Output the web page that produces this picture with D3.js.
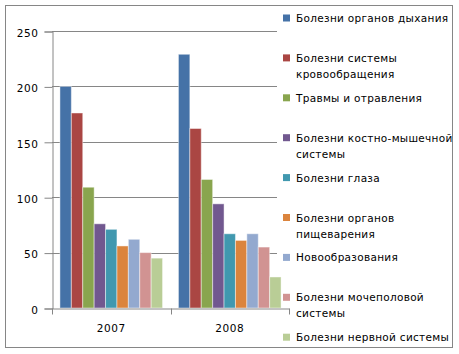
<!DOCTYPE html>
<html>
<head>
<meta charset="utf-8">
<script src="https://cdn.jsdelivr.net/npm/d3@7"></script>
<style>
  body { margin: 0; background: #fff; }
  text { font-family: "DejaVu Sans", sans-serif; fill: #000; }
</style>
</head>
<body>
<div class="container"></div>
<script>
/* Data */
const years = ['2007', '2008'];
const series = [
    'Болезни органов дыхания',
    'Болезни системы кровообращения',
    'Травмы и отравления',
    'Болезни костно-мышечной системы',
    'Болезни глаза',
    'Болезни органов пищеварения',
    'Новообразования',
    'Болезни мочеполовой системы',
    'Болезни нервной системы'
];
// legend lines (how the labels wrap)
const legendLines = [
    ['Болезни органов дыхания'],
    ['Болезни системы', 'кровообращения'],
    ['Травмы и отравления'],
    ['Болезни костно-мышечной', 'системы'],
    ['Болезни глаза'],
    ['Болезни органов', 'пищеварения'],
    ['Новообразования'],
    ['Болезни мочеполовой', 'системы'],
    ['Болезни нервной системы']
];
const values2007 = [200, 176, 109, 76, 71, 56, 62, 50, 45];
const values2008 = [229, 162, 116, 94, 67, 61, 67, 55, 28];
const yTicks = [0, 50, 100, 150, 200, 250];

/* Colors */
const colors = ['#4572A7', '#AA4643', '#89A54E', '#71588F', '#4198AF', '#DB843D', '#93A9CF', '#D19392', '#B9CD96'];
const grey = '#868686';

const width = 459;
const height = 354;

const data = years.map((y, i) => ({
    year: y,
    values: (i === 0 ? values2007 : values2008).map((v, j) => ({ name: series[j], value: v, idx: j }))
}));

const svg = d3.select('.container')
    .append('svg')
    .attr('width', width)
    .attr('height', height);

// outer frame
svg.append('rect')
    .attr('x', 5.5).attr('y', 5.5)
    .attr('width', 447).attr('height', 342)
    .attr('fill', '#fff')
    .attr('stroke', grey);

const plot = { left: 52, right: 289, top: 31, bottom: 308 };

const y = d3.scaleLinear().domain([0, 250]).range([plot.bottom, plot.top]);
const x0 = d3.scaleBand().domain(years).range([plot.left, plot.right]).padding(0);
const gap = x0.bandwidth() * 0.067;
const x1 = d3.scaleBand().domain(d3.range(series.length)).range([gap, x0.bandwidth() - gap]).padding(0);

// gridlines
svg.append('g')
    .selectAll('line')
    .data(yTicks.filter(t => t > 0))
    .enter()
    .append('line')
    .attr('x1', plot.left).attr('x2', 277)
    .attr('y1', d => Math.round(y(d)) + 0.5)
    .attr('y2', d => Math.round(y(d)) + 0.5)
    .attr('stroke', grey);

// bars
const groups = svg.selectAll('.year')
    .data(data)
    .enter()
    .append('g')
    .attr('class', 'year')
    .attr('transform', d => `translate(${x0(d.year)},0)`);

groups.selectAll('rect')
    .data(d => d.values)
    .enter()
    .append('rect')
    .attr('x', d => x1(d.idx))
    .attr('y', d => y(d.value))
    .attr('width', x1.bandwidth())
    .attr('height', d => plot.bottom - y(d.value))
    .attr('fill', d => colors[d.idx])
    .attr('stroke', '#fff')
    .attr('stroke-opacity', 0.45)
    .attr('stroke-width', 1);

// y axis
const yAxis = d3.axisLeft(y).tickValues(yTicks).tickSize(8).tickPadding(6);
const gy = svg.append('g')
    .attr('transform', `translate(${plot.left + 0.5},0.5)`)
    .call(yAxis);
gy.select('.domain').attr('stroke', grey);
gy.selectAll('.tick line').attr('stroke', grey);
gy.selectAll('.tick text')
    .attr('font-size', 10.5)
    .attr('font-family', '"DejaVu Sans", sans-serif')
    .attr('letter-spacing', 0.6)
    .attr('fill', '#000')
    .attr('dy', '0.45em');

// x axis
const xAxis = d3.axisBottom(x0).tickSize(0).tickPadding(16);
const gx = svg.append('g')
    .attr('transform', `translate(0,${plot.bottom + 0.5})`)
    .call(xAxis);
gx.select('.domain').attr('stroke', grey);
gx.selectAll('.tick text')
    .attr('font-size', 10.5)
    .attr('font-family', '"DejaVu Sans", sans-serif')
    .attr('letter-spacing', 0.6)
    .attr('fill', '#000');
gx.selectAll('.sep')
    .data([plot.left, x0('2008'), plot.right])
    .enter()
    .append('line')
    .attr('class', 'sep')
    .attr('x1', d => Math.round(d) + 0.5)
    .attr('x2', d => Math.round(d) + 0.5)
    .attr('y1', 0).attr('y2', 6)
    .attr('stroke', grey);

// legend
const legend = svg.append('g')
    .attr('transform', 'translate(286,0)');
const step = 39.9;
const items = legend.selectAll('.item')
    .data(legendLines)
    .enter()
    .append('g')
    .attr('class', 'item')
    .attr('transform', (d, i) => `translate(0,${18 + i * step})`);
items.append('rect')
    .attr('x', -3).attr('y', -3.5)
    .attr('width', 7).attr('height', 7)
    .attr('fill', (d, i) => colors[i]);
items.selectAll('text')
    .data(d => d)
    .enter()
    .append('text')
    .attr('x', 10)
    .attr('y', (d, i) => 4 + i * 16)
    .attr('font-size', 10.5)
    .attr('letter-spacing', 0.3)
    .text(d => d);
</script>
</body>
</html>
